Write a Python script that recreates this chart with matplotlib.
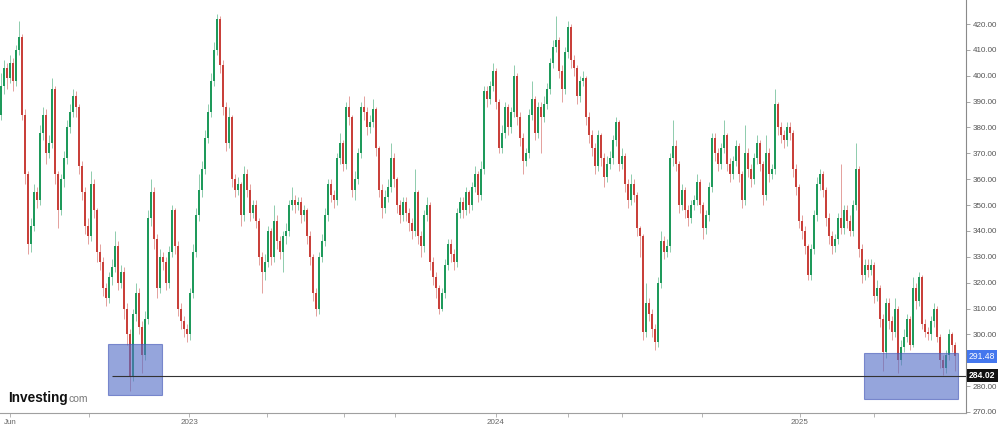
import matplotlib
matplotlib.use("Agg")
import matplotlib.pyplot as plt
import numpy as np
from matplotlib.patches import Rectangle
from matplotlib.transforms import blended_transform_factory

# daily-ish candles, open = previous close
first_open = 385
closes = [
    396, 403, 399, 405, 398, 410, 415, 385, 362, 335, 342, 355, 352, 378, 385, 370,
    374, 395, 362, 348, 360, 368, 380, 386, 392, 388, 365, 355, 342, 338, 358, 348,
    332, 328, 318, 314, 322, 326, 334, 320, 324, 310, 300, 284, 308, 316, 303, 292,
    306, 345, 355, 337, 318, 330, 328, 320, 332, 348, 334, 310, 305, 302, 300, 316,
    332, 346, 356, 364, 376, 386, 398, 410, 422, 404, 388, 374, 384, 360, 356, 358,
    346, 362, 356, 347, 350, 344, 330, 324, 328, 340, 330, 344, 336, 332, 338, 340,
    350, 352, 350, 351, 346, 348, 338, 330, 316, 310, 330, 336, 346, 358, 354, 352,
    368, 374, 366, 388, 384, 356, 360, 370, 388, 386, 380, 382, 387, 372, 356, 349,
    353, 357, 368, 360, 350, 346, 351, 347, 343, 340, 355, 338, 334, 346, 350, 328,
    322, 318, 310, 316, 327, 335, 331, 328, 347, 351, 348, 355, 350, 357, 362, 354,
    364, 394, 391, 396, 402, 390, 372, 378, 388, 380, 386, 400, 384, 376, 367, 370,
    385, 391, 378, 388, 384, 389, 395, 405, 411, 414, 402, 395, 409, 419, 406, 403,
    392, 398, 399, 384, 377, 372, 365, 377, 368, 361, 366, 368, 375, 382, 366, 369,
    358, 352, 358, 354, 341, 338, 301, 312, 308, 302, 297, 320, 336, 332, 334, 368,
    373, 366, 350, 356, 348, 345, 350, 352, 359, 350, 341, 346, 357, 376, 370, 366,
    372, 377, 366, 362, 367, 373, 362, 352, 370, 364, 360, 368, 374, 366, 354, 370,
    362, 364, 389, 380, 377, 375, 380, 378, 364, 357, 344, 340, 334, 323, 333, 346,
    358, 362, 356, 345, 338, 334, 337, 345, 341, 348, 344, 340, 350, 364, 333, 323,
    327, 325, 327, 315, 318, 306, 293, 312, 305, 301, 310, 290, 295, 299, 306, 296,
    318, 313, 322, 304, 301, 300, 305, 310, 299, 290, 287, 292, 300, 296, 291.48,
]
highs = [
    401, 406, 405, 408, 407, 412, 421, 416, 387, 363, 345, 358, 357, 381, 388, 387,
    377, 399, 396, 363, 362, 371, 383, 389, 395, 394, 389, 367, 357, 345, 363, 360,
    349, 335, 330, 320, 324, 329, 340, 336, 327, 326, 312, 302, 310, 320, 318, 305,
    309, 348, 360, 357, 339, 333, 332, 330, 334, 350, 349, 336, 312, 307, 304, 318,
    335, 349, 362, 367, 379, 389, 401, 413, 424, 423, 406, 390, 388, 385, 362, 361,
    359, 365, 364, 358, 352, 352, 345, 332, 331, 342, 341, 350, 346, 338, 340, 343,
    352, 357, 354, 353, 353, 350, 349, 340, 331, 318, 332, 339, 349, 360, 360, 356,
    370, 378, 375, 390, 392, 385, 363, 372, 390, 392, 388, 385, 391, 388, 373, 358,
    356, 360, 374, 370, 361, 352, 353, 353, 349, 345, 364, 356, 340, 348, 353, 351,
    330, 324, 319, 318, 329, 337, 337, 333, 349, 353, 353, 357, 356, 359, 365, 363,
    367, 396, 396, 398, 405, 403, 391, 381, 390, 389, 388, 404, 401, 386, 378, 372,
    387, 398, 392, 390, 390, 392, 397, 407, 414, 423, 415, 404, 411, 421, 420, 408,
    404, 400, 402, 400, 386, 379, 374, 379, 378, 370, 369, 371, 377, 384, 383, 372,
    370, 360, 362, 360, 355, 342, 339, 320, 314, 310, 304, 322, 340, 338, 337, 370,
    383, 375, 367, 358, 357, 350, 352, 354, 362, 360, 351, 348, 359, 378, 378, 372,
    374, 383, 378, 368, 369, 375, 374, 363, 381, 372, 366, 370, 377, 375, 367, 377,
    372, 366, 395, 390, 382, 379, 382, 382, 379, 366, 358, 346, 342, 335, 335, 348,
    361, 364, 363, 357, 347, 340, 339, 347, 366, 350, 350, 346, 352, 374, 365, 335,
    329, 329, 329, 328, 321, 319, 308, 314, 314, 307, 314, 311, 298, 302, 308, 307,
    322, 320, 324, 323, 306, 303, 307, 312, 311, 300, 292, 294, 302, 301, 297,
]
lows = [
    383, 393, 395, 397, 394, 396, 408, 383, 358, 331, 332, 340, 349, 350, 375, 366,
    368, 372, 358, 341, 346, 357, 366, 378, 384, 384, 362, 352, 339, 335, 336, 345,
    328, 325, 315, 311, 312, 319, 324, 317, 318, 306, 296, 278, 282, 305, 300, 285,
    290, 304, 342, 333, 314, 316, 325, 317, 318, 330, 331, 307, 302, 299, 297, 298,
    314, 330, 344, 353, 362, 374, 384, 396, 408, 401, 385, 371, 372, 357, 353, 354,
    342, 344, 353, 344, 345, 341, 327, 316, 321, 326, 327, 328, 333, 329, 324, 335,
    338, 348, 347, 348, 343, 344, 335, 327, 313, 307, 308, 328, 334, 344, 351, 349,
    350, 366, 363, 364, 381, 353, 352, 358, 368, 383, 377, 378, 380, 369, 353, 345,
    347, 351, 355, 357, 347, 343, 344, 344, 340, 337, 338, 335, 330, 332, 344, 325,
    319, 314, 308, 309, 314, 325, 328, 325, 326, 345, 345, 346, 347, 348, 355, 351,
    352, 362, 388, 389, 394, 387, 370, 370, 376, 377, 378, 384, 381, 373, 362, 365,
    368, 383, 375, 376, 370, 382, 387, 393, 403, 409, 399, 390, 393, 407, 403, 400,
    389, 390, 396, 381, 374, 369, 362, 363, 365, 357, 359, 364, 366, 373, 363, 364,
    355, 349, 350, 351, 338, 330, 298, 299, 305, 299, 294, 295, 318, 329, 330, 332,
    365, 363, 347, 348, 345, 342, 343, 348, 350, 347, 337, 339, 344, 355, 367, 363,
    364, 370, 363, 359, 360, 365, 359, 349, 350, 361, 357, 358, 366, 363, 350, 352,
    359, 360, 362, 377, 374, 372, 373, 375, 361, 354, 341, 337, 331, 321, 321, 331,
    344, 356, 353, 342, 335, 331, 332, 335, 339, 339, 341, 338, 338, 348, 330, 320,
    321, 322, 323, 312, 313, 303, 286, 291, 302, 298, 299, 285, 288, 293, 297, 294,
    295, 310, 311, 302, 299, 298, 298, 303, 297, 287, 284.2, 285, 290, 293, 286,
]

last_price = 291.48
support = 284.02
# highlighted zones: (first candle, last candle, low, high)
zones = [(35.7, 53.7, 276.6, 296.3), (287.8, 318.9, 274.9, 292.7)]

month_ticks = [3, 29.3, 62.7, 88.7, 114.3, 131.3, 165, 189, 207, 233.7, 266.3, 291]
month_labels = ["Jun", "", "2023", "", "", "", "2024", "", "", "", "2025", ""]

up_color = "#1e9a5b"
down_color = "#c9403a"

fig = plt.figure(figsize=(10, 4.29), dpi=100)
ax = fig.add_axes([0, 16 / 429, 0.966, 413 / 429])

opens = np.array([first_open] + closes[:-1], dtype=float)
closes_a = np.array(closes, dtype=float)
x = np.arange(len(closes_a))
up = closes_a >= opens
colors = np.where(up, up_color, down_color)

ax.vlines(x, lows, highs, colors=colors, linewidth=0.7, alpha=0.5, zorder=2)
bottoms = np.minimum(opens, closes_a)
heights = np.maximum(np.abs(closes_a - opens), 0.5)
ax.bar(x, heights, bottom=bottoms, width=0.68, color=colors, linewidth=0, zorder=3)

for x0, x1, y0, y1 in zones:
    ax.add_patch(Rectangle((x0, y0), x1 - x0, y1 - y0, facecolor=(0.33, 0.43, 0.78),
                           alpha=0.62, edgecolor="#4458b8", linewidth=0.8, zorder=4))

ax.hlines(support, 37, 321.67, colors="#333333", linewidth=0.8, zorder=5)

ax.set_xlim(-0.33, 321.67)
ax.set_ylim(269.6, 429.28)

for s in ["top", "left"]:
    ax.spines[s].set_visible(False)
ax.spines["right"].set_color("#8a8a8a")
ax.spines["bottom"].set_color("#a0a0a0")
ax.spines["right"].set_linewidth(0.8)
ax.spines["bottom"].set_linewidth(0.8)

yt = [v for v in range(270, 430, 10) if v != 290]
ax.yaxis.tick_right()
ax.set_yticks(yt)
ax.set_yticklabels([f"{v:.2f}" for v in yt], family="Liberation Sans")
ax.tick_params(axis="y", length=3, width=0.6, color="#999999", labelsize=5.8,
               labelcolor="#555555", pad=2)
ax.set_xticks(month_ticks)
ax.set_xticklabels(month_labels, family="Liberation Sans")
ax.tick_params(axis="x", length=3, width=0.6, color="#aaaaaa", labelsize=5.8,
               labelcolor="#666666", pad=1.5)

tr = blended_transform_factory(ax.transAxes, ax.transData)
ax.text(1.0045, 430, "430.00", transform=tr, fontsize=5.8, color="#555555",
        va="center", ha="left", family="Liberation Sans", clip_on=False)
ax.text(1.003, last_price, "291.48", transform=tr, fontsize=6.2, color="white",
        va="center", ha="left", family="Liberation Sans", clip_on=False,
        bbox=dict(boxstyle="square,pad=0.25", fc="#4477ee", ec="none"))
ax.text(1.003, support, "284.02", transform=tr, fontsize=6.2, color="white",
        va="center", ha="left", family="Liberation Sans", fontweight="bold", clip_on=False,
        bbox=dict(boxstyle="square,pad=0.25", fc="#111111", ec="none"))

# logo: bold word, then "com" right after it
logo = fig.text(0.008, 1 - 398 / 429, "Investing", fontsize=9.8, fontweight="bold",
                color="#111111", va="center", ha="left", family="Liberation Sans")
fig.canvas.draw()
bb = logo.get_window_extent(renderer=fig.canvas.get_renderer())
fig.text(bb.x1 / 1000 + 0.001, 1 - 399 / 429, "com", fontsize=7.5, color="#777777",
         va="center", ha="left", family="Liberation Sans")

fig.savefig("out.png", dpi=100)
